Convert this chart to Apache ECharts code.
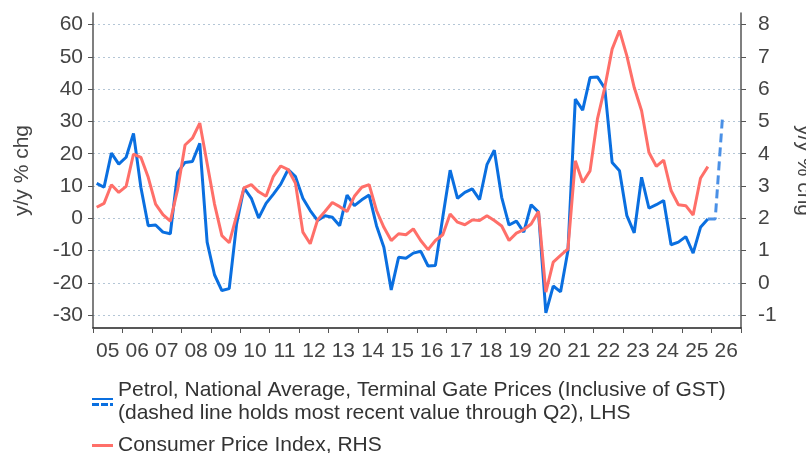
<!DOCTYPE html>
<html>
<head>
<meta charset="utf-8">
<title>Petrol prices and CPI</title>
<script src="https://cdn.jsdelivr.net/npm/echarts@6/dist/echarts.min.js"></script>
<style>
  html, body { margin: 0; padding: 0; background: #fff; }
  #chart { width: 806px; height: 453px; }
</style>
</head>
<body>
<div id="chart"></div>
<script>
// quarterly data, 2005Q1 .. 2025Q4
const firstYear = 2005
const yearLabels = ['05', '06', '07', '08', '09', '10', '11', '12', '13', '14', '15',
  '16', '17', '18', '19', '20', '21', '22', '23', '24', '25', '26']
const petrol = [
  10.8, 9.6, 20.2, 16.8, 18.9, 26.3, 9.6, -2.3, -2.1, -4.3,
  -4.8, 14.2, 17.3, 17.6, 23.2, -7.4, -17.5, -22.4, -21.8, -1.8,
  9.4, 6.2, 0.1, 4.6, 7.5, 10.6, 15.1, 12.9, 6.2, 2.4,
  -0.7, 0.8, 0.3, -2.3, 7.2, 3.9, 5.7, 7.2, -2.3, -9.0,
  -22.2, -12.1, -12.4, -10.8, -10.2, -14.8, -14.6, 0.3, 14.9, 6.2,
  8.0, 9.1, 5.8, 16.6, 21.1, 6.5, -2.1, -0.9, -4.3, 4.2,
  1.9, -29.3, -21.0, -22.8, -10.0, 36.9, 33.5, 43.6, 43.8, 40.3,
  17.3, 14.7, 0.8, -4.5, 12.7, 3.1, 4.2, 5.5, -8.2, -7.4,
  -5.7, -10.8, -2.8, -0.2
]
// 2025Q4 .. 2026Q2, dashed
const petrolHeld = [-0.2, -0.2, 31.8]
const cpi = [
  2.34, 2.46, 3.04, 2.80, 2.99, 3.99, 3.89, 3.27, 2.44, 2.11,
  1.91, 2.90, 4.27, 4.48, 4.95, 3.70, 2.44, 1.46, 1.24, 2.08,
  2.94, 3.04, 2.82, 2.68, 3.30, 3.62, 3.51, 3.08, 1.57, 1.21,
  1.95, 2.21, 2.49, 2.36, 2.21, 2.68, 2.96, 3.04, 2.24, 1.72,
  1.31, 1.52, 1.49, 1.67, 1.31, 1.03, 1.31, 1.49, 2.13, 1.88,
  1.80, 1.95, 1.93, 2.08, 1.93, 1.76, 1.31, 1.54, 1.65, 1.82,
  2.21, -0.29, 0.64, 0.85, 1.05, 3.78, 3.11, 3.47, 5.07, 6.05,
  7.24, 7.82, 7.03, 6.05, 5.33, 4.04, 3.61, 3.80, 2.86, 2.42,
  2.39, 2.10, 3.24, 3.60
]
const leftTicks = [-30, -20, -10, 0, 10, 20, 30, 40, 50, 60]
const rightTicks = [-1, 0, 1, 2, 3, 4, 5, 6, 7, 8]

const petrolName = 'Petrol, National Average, Terminal Gate Prices (Inclusive of GST)\n(dashed line holds most recent value through Q2), LHS'
const cpiName = 'Consumer Price Index, RHS'
const font = '"Liberation Sans", Arial, sans-serif'
const textColor = '#444'
const fontSize = 21

// middle of quarter i counted from firstYear Q1
function quarterX(i) {
  return firstYear + (i + 0.5) / 4
}

const chart = echarts.init(document.getElementById('chart'))
chart.setOption({
  animation: false,
  textStyle: { fontFamily: font },
  grid: {
    left: 93,
    right: 65,
    top: 13,
    bottom: 125,
    outerBoundsMode: 'none'
  },
  legend: {
    orient: 'vertical',
    left: 92,
    top: 379,
    padding: 0,
    itemWidth: 21,
    itemHeight: 8,
    itemGap: 9,
    selectedMode: false,
    textStyle: { fontSize: fontSize, lineHeight: 23, color: '#333', fontFamily: font },
    data: [
      { name: petrolName, icon: 'path://M0,0h21v2h-21zM0,5h7v3h-7zM9,5h7v3h-7zM18,5h3v3h-3z' },
      { name: cpiName, icon: 'path://M0,0h21v3h-21z' }
    ]
  },
  xAxis: [
    {
      type: 'value',
      min: 2005,
      max: 2027,
      interval: 1,
      axisLine: { show: true, onZero: false, lineStyle: { color: '#222', width: 1.5 } },
      axisTick: { show: true, length: 5, lineStyle: { color: '#555' } },
      axisLabel: { show: false },
      splitLine: { show: false }
    },
    {
      type: 'category',
      position: 'bottom',
      data: yearLabels,
      boundaryGap: true,
      axisLine: { show: false, onZero: false },
      axisTick: { show: false },
      axisLabel: { fontSize: fontSize, color: textColor, margin: 13, interval: 0 },
      splitLine: { show: false }
    }
  ],
  yAxis: [
    {
      type: 'value',
      position: 'left',
      min: -34,
      max: 63.6,
      name: 'y/y % chg',
      nameLocation: 'middle',
      nameRotate: 90,
      nameGap: 60,
      nameTextStyle: { fontSize: fontSize, color: textColor },
      axisLine: { show: true, onZero: false, lineStyle: { color: '#555', width: 1.5 } },
      axisTick: { show: true, length: 5, customValues: leftTicks, lineStyle: { color: '#555' } },
      axisLabel: { customValues: leftTicks, fontSize: fontSize, color: textColor, margin: 10 },
      splitLine: { show: true, lineStyle: { type: [2, 3], color: '#b4c6d6', width: 1 } }
    },
    {
      type: 'value',
      position: 'right',
      min: -1.4,
      max: 8.36,
      name: 'y/y % chg',
      nameLocation: 'middle',
      nameRotate: -90,
      nameGap: 52,
      nameTextStyle: { fontSize: fontSize, color: textColor },
      axisLine: { show: true, onZero: false, lineStyle: { color: '#555', width: 1.5 } },
      axisTick: { show: true, length: 5, customValues: rightTicks, lineStyle: { color: '#555' } },
      axisLabel: { customValues: rightTicks, fontSize: fontSize, color: textColor, margin: 17 },
      splitLine: { show: false }
    }
  ],
  series: [
    {
      name: petrolName,
      type: 'line',
      xAxisIndex: 0,
      yAxisIndex: 0,
      color: '#0a6fe0',
      symbol: 'none',
      lineStyle: { width: 3, color: '#0a6fe0' },
      data: petrol.map((v, i) => [quarterX(i), v])
    },
    {
      name: 'held',
      type: 'line',
      xAxisIndex: 0,
      yAxisIndex: 0,
      symbol: 'none',
      lineStyle: { width: 3, color: '#4a90e6', type: [9, 5] },
      data: petrolHeld.map((v, i) => [quarterX(petrol.length - 1 + i), v])
    },
    {
      name: cpiName,
      type: 'line',
      xAxisIndex: 0,
      yAxisIndex: 1,
      color: '#ff6f69',
      symbol: 'none',
      lineStyle: { width: 3, color: '#ff6f69' },
      data: cpi.map((v, i) => [quarterX(i), v])
    }
  ]
})
</script>
</body>
</html>
